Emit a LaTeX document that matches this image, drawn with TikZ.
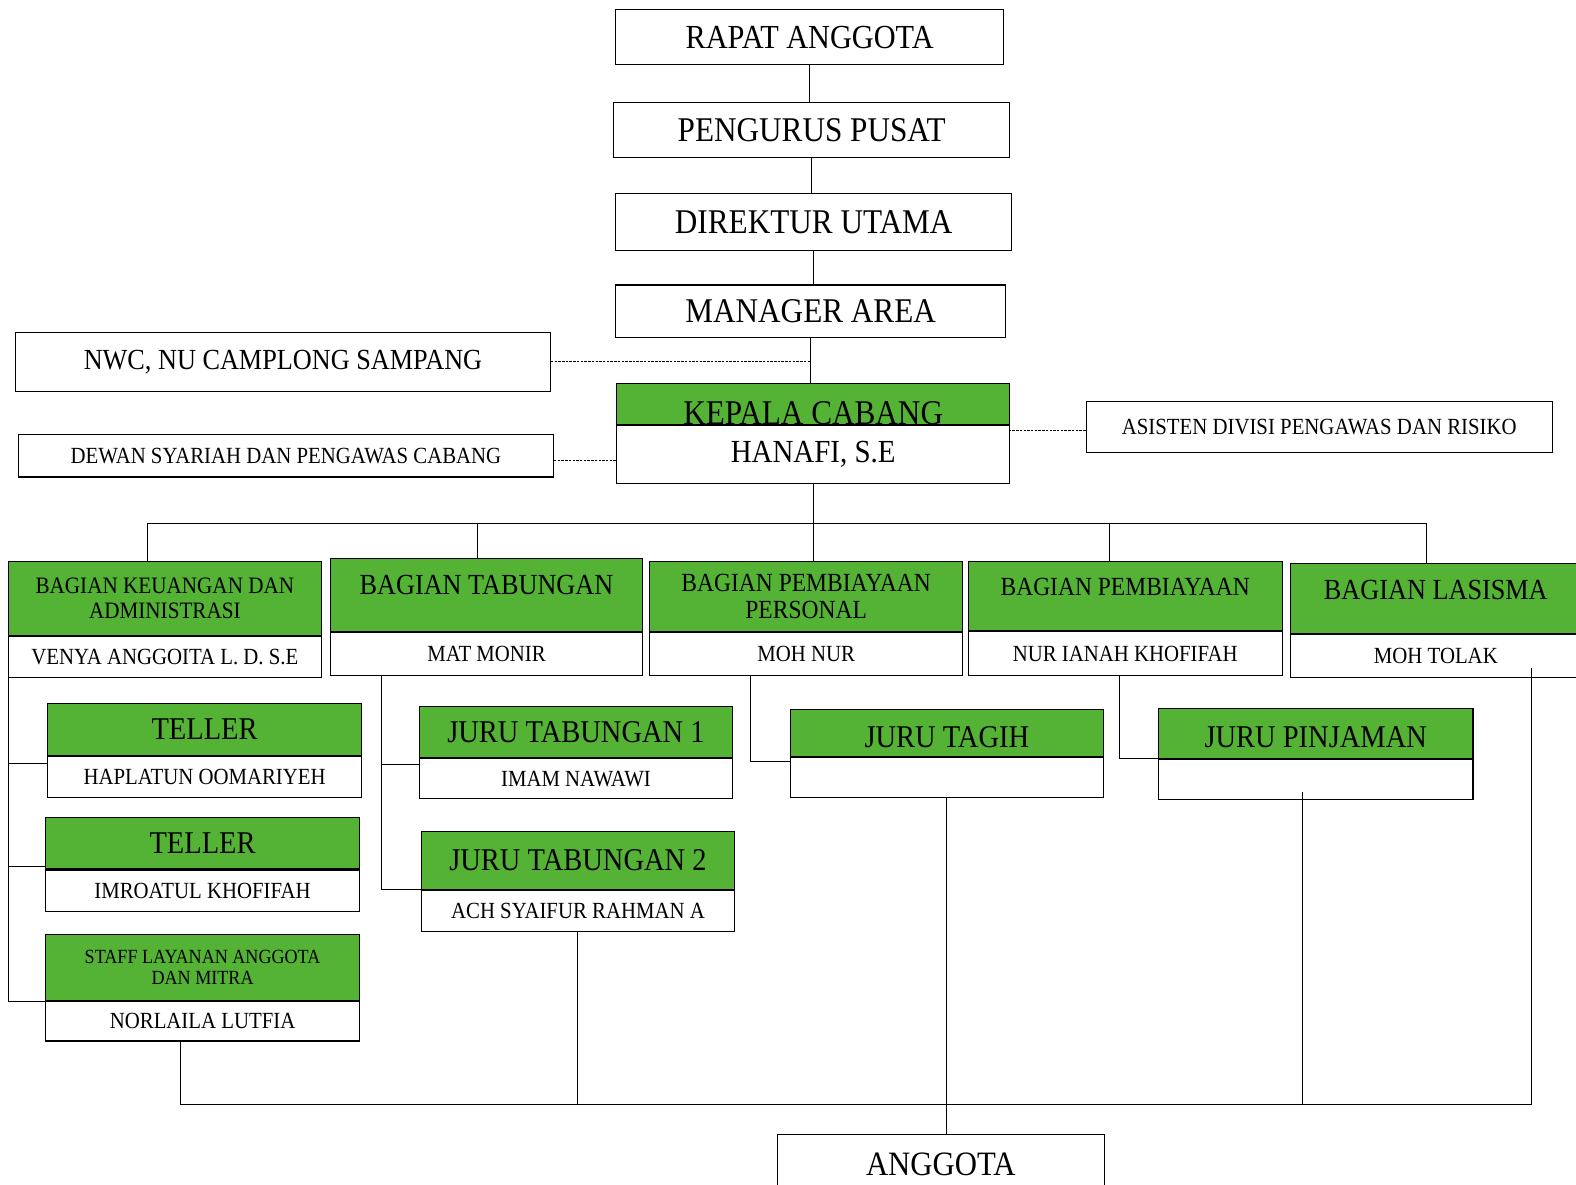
\documentclass[tikz,border=0pt]{standalone}
\usepackage{fontspec}
\setmainfont[FakeStretch=0.9]{Liberation Serif}
\usepackage{tikz}
\usetikzlibrary{calc, positioning}
\definecolor{hijau}{RGB}{84,178,52}

\begin{document}
\begin{tikzpicture}[x=1pt, y=-1pt,
  kotak/.style={draw, fill=white, line width=1.1pt, inner sep=0pt, anchor=north west},
  judul/.style={kotak, fill=hijau, align=center},
  nama/.style={draw, fill=white, line width=1.1pt, inner sep=0pt, anchor=north},
  naik/.style 2 args={inner ysep=0pt, text height=#1, text depth=#2},
  garis/.style={line width=1pt},
  putus/.style={line width=0.9pt, dash pattern=on 2.5pt off 1.2pt},
  hurufbesar/.style={font=\fontsize{34.5}{38}\selectfont},
  hurufjuru/.style={font=\fontsize{31.5}{35}\selectfont},
  hurufnama/.style={font=\fontsize{23}{25}\selectfont}]
  \useasboundingbox (0,0) rectangle (1568,1178);

  \node[kotak, font=\fontsize{33.5}{37}\selectfont, minimum width=386pt, minimum height=55pt] (rapat) at (612,9) {RAPAT ANGGOTA};
  \node[kotak, hurufbesar, minimum width=394pt, minimum height=55pt] (pengurus) at (610,101) {PENGURUS PUSAT};
  \node[kotak, hurufbesar, minimum width=394pt, minimum height=57pt] (direktur) at (612,192) {DIREKTUR UTAMA};
  \node[kotak, hurufbesar, minimum width=388pt, minimum height=52pt] (manager) at (612,283) {MANAGER AREA};
  \node[kotak, font=\fontsize{29}{32}\selectfont, minimum width=532pt, minimum height=59pt] (nwc) at (15,330) {NWC, NU CAMPLONG SAMPANG};
  \node[kotak, hurufnama, minimum width=532pt, minimum height=42pt] (dewan) at (18,432) {DEWAN SYARIAH DAN PENGAWAS CABANG};
  \node[kotak, hurufnama, minimum width=464pt, minimum height=51pt] (asisten) at (1080,399) {ASISTEN DIVISI PENGAWAS DAN RISIKO};
  \node[judul, hurufbesar, naik={40.4pt}{0.6pt}, minimum width=391pt] (kacab) at (613,381) {KEPALA CABANG};
  \node[nama, font=\fontsize{32}{35}\selectfont, minimum width=391pt, minimum height=57pt] (hanafi) at (kacab.south) {HANAFI, S.E};

  \node[judul, font=\fontsize{23.4}{25}\selectfont, minimum width=311pt, minimum height=74pt] (keu) at (8,558) {BAGIAN KEUANGAN DAN\\ADMINISTRASI};
  \node[nama, hurufnama, minimum width=311pt, minimum height=40pt] (keun) at (keu.south) {VENYA ANGGOITA L. D. S.E};
  \node[judul, font=\fontsize{29}{32}\selectfont, naik={35.6pt}{37.4pt}, minimum width=311pt] (tab) at (328,555) {BAGIAN TABUNGAN};
  \node[nama, hurufnama, minimum width=311pt, minimum height=42pt] (tabn) at (tab.south) {MAT MONIR};
  \node[judul, font=\fontsize{26}{27}\selectfont, minimum width=311pt, minimum height=70pt] (pers) at (646,558) {BAGIAN PEMBIAYAAN\\PERSONAL};
  \node[nama, hurufnama, minimum width=311pt, minimum height=42pt] (persn) at (pers.south) {MOH NUR};
  \node[judul, font=\fontsize{26}{27}\selectfont, naik={33.6pt}{35.4pt}, minimum width=312pt] (pemb) at (963,558) {BAGIAN PEMBIAYAAN};
  \node[nama, hurufnama, minimum width=312pt, minimum height=43pt] (pembn) at (pemb.south) {NUR IANAH KHOFIFAH};
  \node[judul, font=\fontsize{29}{32}\selectfont, naik={35.6pt}{34.4pt}, minimum width=290pt] (las) at (1283,560) {BAGIAN LASISMA};
  \node[nama, hurufnama, minimum width=290pt, minimum height=42pt] (lasn) at (las.south) {MOH TOLAK};

  \node[judul, hurufjuru, minimum width=312pt, minimum height=52pt] (teller1) at (47,699) {TELLER};
  \node[nama, hurufnama, minimum width=312pt, minimum height=41pt] (teller1n) at (teller1.south) {HAPLATUN OOMARIYEH};
  \node[judul, hurufjuru, minimum width=312pt, minimum height=51pt] (teller2) at (45,813) {TELLER};
  \node[nama, hurufnama, minimum width=312pt, minimum height=41pt] (teller2n) at (teller2.south) {IMROATUL KHOFIFAH};
  \node[judul, font=\fontsize{20}{21}\selectfont, minimum width=312pt, minimum height=66pt] (staff) at (45,929) {STAFF LAYANAN ANGGOTA\\DAN MITRA};
  \node[nama, hurufnama, minimum width=312pt, minimum height=39pt] (staffn) at (staff.south) {NORLAILA LUTFIA};

  \node[judul, hurufjuru, minimum width=311pt, minimum height=51pt] (jt1) at (417,702) {JURU TABUNGAN 1};
  \node[nama, hurufnama, minimum width=311pt, minimum height=40pt] (jt1n) at (jt1.south) {IMAM NAWAWI};
  \node[judul, hurufjuru, minimum width=311pt, minimum height=57pt] (jt2) at (419,827) {JURU TABUNGAN 2};
  \node[nama, hurufnama, minimum width=311pt, minimum height=41pt] (jt2n) at (jt2.south) {ACH SYAIFUR RAHMAN A};

  \node[judul, hurufjuru, naik={38.4pt}{8.6pt}, minimum width=311pt] (tagih) at (786,705) {JURU TAGIH};
  \node[nama, minimum width=311pt, minimum height=40pt] (tagihn) at (tagih.south) {};
  \node[judul, hurufjuru, naik={39.4pt}{10.6pt}, minimum width=313pt] (pinjam) at (1152,704) {JURU PINJAMAN};
  \node[nama, minimum width=313pt, minimum height=40pt] (pinjamn) at (pinjam.south) {};

  \node[kotak, font=\fontsize{34}{37}\selectfont, minimum width=325pt, minimum height=60pt] (anggota) at (773,1128) {ANGGOTA};

  \draw[garis] (rapat.south) -- (rapat.south |- pengurus.north);
  \draw[garis] (pengurus.south) -- (pengurus.south |- direktur.north);
  \draw[garis] (direktur.south) -- (direktur.south |- manager.north);
  \draw[garis] (manager.south) -- (manager.south |- kacab.north);
  \draw[putus] (nwc.east) -- (nwc.east -| manager.south);
  \draw[putus] ([yshift=-5pt]dewan.east) -- ([yshift=-5pt]dewan.east -| hanafi.west);
  \draw[putus] ([yshift=-3pt]asisten.west) -- ([yshift=-3pt]asisten.west -| hanafi.east);

  \coordinate (bus) at (0,521);
  \draw[garis] (hanafi.south) -- (hanafi.south |- pers.north);
  \draw[garis] ([xshift=-17pt]keu.north) -- ([xshift=-17pt]keu.north |- bus) -- ([xshift=-9pt]las.north |- bus) -- ([xshift=-9pt]las.north);
  \draw[garis] ([xshift=-9pt]tab.north) -- ([xshift=-9pt]tab.north |- bus);
  \draw[garis] ([xshift=-16pt]pemb.north) -- ([xshift=-16pt]pemb.north |- bus);

  \draw[garis] (keun.south west) |- (staffn.north west);
  \draw[garis] ([yshift=-8pt]teller1n.north west) -- ([yshift=-8pt]teller1n.north west -| keun.west);
  \draw[garis] ([yshift=3pt]teller2n.north west) -- ([yshift=3pt]teller2n.north west -| keun.west);

  \coordinate (tabkiri) at ([xshift=52pt]tabn.south west);
  \draw[garis] (tabkiri) |- (jt2n.north west);
  \draw[garis] ([yshift=-7pt]jt1n.north west) -- ([yshift=-7pt]jt1n.north west -| tabkiri);
  \draw[garis] ([xshift=101pt]persn.south west) |- ([yshift=-5pt]tagihn.north west);
  \draw[garis] ([xshift=151pt]pembn.south west) |- (pinjamn.north west);

  \coordinate (bus2) at (0,1099);
  \draw[garis] ([xshift=-22pt]staffn.south) |- ([xshift=95pt]lasn.south |- bus2) -- ([xshift=95pt,yshift=10pt]lasn.south);
  \draw[garis] (jt2n.south) -- (jt2n.south |- bus2);
  \draw[garis] ([xshift=-13pt,yshift=8pt]pinjamn.south) -- ([xshift=-13pt]pinjamn.south |- bus2);
  \draw[garis] (tagihn.south) -- (tagihn.south |- anggota.north);
\end{tikzpicture}
\end{document}
